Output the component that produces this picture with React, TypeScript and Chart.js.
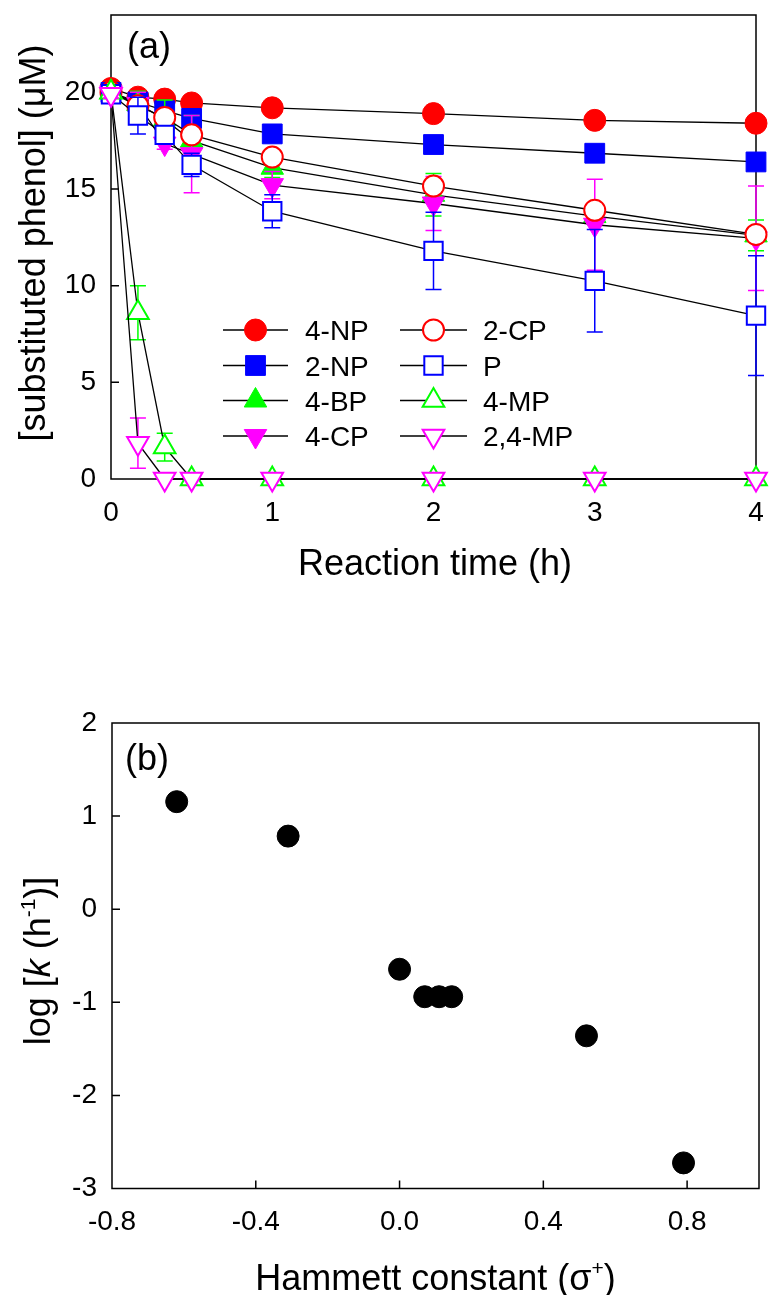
import React, { useEffect, useRef } from 'react';
import { Chart, registerables } from 'chart.js';
import { drawPoint } from 'chart.js/helpers';

Chart.register(...registerables);

const FONT_FAMILY = '"Liberation Sans", Arial, Helvetica, sans-serif';

// ---------- Panel (a): decay of substituted phenols ----------
const reactionTimes = [0, 0.167, 0.333, 0.5, 1, 2, 3, 4];
const timeTicks = [0, 1, 2, 3, 4];
const concTicks = [0, 5, 10, 15, 20];

const phenolLabels = ['4-NP', '2-NP', '4-BP', '4-CP', '2-CP', 'P', '4-MP', '2,4-MP'];

const conc4NP = [20.2, 19.75, 19.65, 19.45, 19.2, 18.9, 18.55, 18.4];
const sd4NP = [0.2, 0.2, 0.2, 0.2, 0.2, 0.2, 0.2, 0.2];
const conc2NP = [20.0, 19.5, 19.05, 18.65, 17.85, 17.3, 16.85, 16.4];
const sd2NP = [0.2, 0.3, 0.3, 0.3, 0.3, 0.3, 0.3, 0.3];
const conc4BP = [20.0, 19.4, 18.6, 17.5, 16.1, 14.7, 13.6, 12.6];
const sd4BP = [0.2, 0.65, 1.0, 1.3, 0.5, 1.1, 0.4, 0.8];
const conc4CP = [20.0, 19.4, 17.35, 16.8, 15.2, 14.25, 13.15, 12.45];
const sd4CP = [0.2, 0.6, 0.3, 2.0, 0.7, 1.4, 2.35, 2.7];
const conc2CP = [20.0, 19.3, 18.7, 17.8, 16.65, 15.15, 13.9, 12.65];
const sd2CP = [0.2, 0.3, 0.3, 0.3, 0.3, 0.3, 0.3, 0.3];
const concP = [19.9, 18.8, 17.8, 16.25, 13.85, 11.8, 10.25, 8.45];
const sdP = [0.3, 0.95, 0.4, 0.6, 0.85, 2.0, 2.65, 3.1];
const conc4MP = [20.0, 8.6, 1.65, 0, 0, 0, 0, 0];
const sd4MP = [0.2, 1.4, 0.72, 0, 0, 0, 0, 0];
const conc24MP = [19.9, 1.85, 0, 0, 0, 0, 0, 0];
const sd24MP = [0.2, 1.3, 0, 0, 0, 0, 0, 0];

const seriesConc = [conc4NP, conc2NP, conc4BP, conc4CP, conc2CP, concP, conc4MP, conc24MP];
const seriesSd = [sd4NP, sd2NP, sd4BP, sd4CP, sd2CP, sdP, sd4MP, sd24MP];

// ---------- Panel (b): Hammett plot ----------
const hammettSigma = [-0.62, -0.31, 0.0, 0.07, 0.11, 0.145, 0.52, 0.79];
const logRateConst = [1.155, 0.785, -0.645, -0.94, -0.94, -0.94, -1.36, -2.725];
const sigmaTicks = [-0.8, -0.4, 0.0, 0.4, 0.8];
const sigmaTickLabels = ['-0.8', '-0.4', '0.0', '0.4', '0.8'];
const logKTicks = [-3, -2, -1, 0, 1, 2];
const logKTickLabels = ['-3', '-2', '-1', '0', '1', '2'];

// marker appearance for each phenol series
const markerStyles = [
  { edge: '#FF0000', face: '#FF0000', shape: 'circle', r: 11, rot: 0, bw: 1 },
  { edge: '#0000FF', face: '#0000FF', shape: 'rect', r: 14, rot: 0, bw: 1 },
  { edge: '#00FF00', face: '#00FF00', shape: 'triangle', r: 13, rot: 0, bw: 1 },
  { edge: '#FF00FF', face: '#FF00FF', shape: 'triangle', r: 13, rot: 180, bw: 1 },
  { edge: '#FF0000', face: '#FFFFFF', shape: 'circle', r: 10.5, rot: 0, bw: 2 },
  { edge: '#0000FF', face: '#FFFFFF', shape: 'rect', r: 13, rot: 0, bw: 2 },
  { edge: '#00FF00', face: '#FFFFFF', shape: 'triangle', r: 12.5, rot: 0, bw: 2 },
  { edge: '#FF00FF', face: '#FFFFFF', shape: 'triangle', r: 12.5, rot: 180, bw: 2 },
];

const CANVAS_W = 771;
const A_H = 620;
const B_TOP = 620;
const B_H = 675;

type Seg = { text: string; size: number; italic?: boolean; rise?: number };

function fontOf(s: Seg) {
  return `${s.italic ? 'italic ' : ''}${s.size}px ${FONT_FAMILY}`;
}

// Draws mixed-style text centred on (cx) with baseline at (by); rotated for vertical titles.
function drawRich(ctx: CanvasRenderingContext2D, segs: Seg[], x: number, y: number, vertical: boolean) {
  ctx.save();
  ctx.fillStyle = '#000';
  ctx.textAlign = 'left';
  ctx.textBaseline = 'alphabetic';
  let total = 0;
  const widths = segs.map((s) => {
    ctx.font = fontOf(s);
    const w = ctx.measureText(s.text).width;
    total += w;
    return w;
  });
  if (vertical) {
    ctx.translate(x, y);
    ctx.rotate(-Math.PI / 2);
  } else {
    ctx.translate(x, y);
  }
  let cur = -total / 2;
  segs.forEach((s, i) => {
    ctx.font = fontOf(s);
    ctx.fillText(s.text, cur, -(s.rise || 0));
    cur += widths[i];
  });
  ctx.restore();
}

const TICK_LEN = 8;

const frameAndTicks = {
  id: 'frameAndTicks',
  beforeDatasetsDraw(chart: any) {
    const { ctx, chartArea: a, scales } = chart;
    ctx.save();
    ctx.strokeStyle = '#000';
    ctx.lineWidth = 1.5;
    ctx.strokeRect(a.left, a.top, a.right - a.left, a.bottom - a.top);
    ctx.beginPath();
    for (const t of scales.x.ticks) {
      const px = scales.x.getPixelForValue(t.value);
      if (px > a.left + 1 && px < a.right - 1) {
        ctx.moveTo(px, a.bottom);
        ctx.lineTo(px, a.bottom - TICK_LEN);
      }
    }
    for (const t of scales.y.ticks) {
      const py = scales.y.getPixelForValue(t.value);
      if (py > a.top + 1 && py < a.bottom - 1) {
        ctx.moveTo(a.left, py);
        ctx.lineTo(a.left + TICK_LEN, py);
      }
    }
    ctx.stroke();
    ctx.restore();
  },
};

const errorBars = {
  id: 'errorBars',
  beforeDatasetDraw(chart: any, args: any) {
    const ds = chart.data.datasets[args.index];
    const errs: number[] | undefined = ds.errors;
    if (!errs) return;
    const yScale = chart.scales.y;
    const ctx = chart.ctx;
    const cap = 8;
    ctx.save();
    ctx.strokeStyle = ds.pointBorderColor;
    ctx.lineWidth = 1.5;
    ctx.beginPath();
    args.meta.data.forEach((pt: any, i: number) => {
      const e = errs[i];
      if (!e) return;
      const v = ds.data[i].y;
      const top = yScale.getPixelForValue(v + e);
      const bot = yScale.getPixelForValue(v - e);
      const x = pt.x;
      ctx.moveTo(x, top);
      ctx.lineTo(x, bot);
      ctx.moveTo(x - cap, top);
      ctx.lineTo(x + cap, top);
      ctx.moveTo(x - cap, bot);
      ctx.lineTo(x + cap, bot);
    });
    ctx.stroke();
    ctx.restore();
  },
};

// legend placement inside panel (a)
const legendLineStart = [223, 400];
const legendLineEnd = [288, 467];
const legendMarkerX = [255.5, 433.5];
const legendTextX = [305, 483];
const legendRowY = [330, 365.5, 400.5, 436];

const phenolLegend = {
  id: 'phenolLegend',
  afterDraw(chart: any) {
    const ctx = chart.ctx;
    chart.data.datasets.forEach((ds: any, i: number) => {
      const col = Math.floor(i / 4);
      const y = legendRowY[i % 4];
      ctx.save();
      ctx.strokeStyle = '#000';
      ctx.lineWidth = 1.3;
      ctx.beginPath();
      ctx.moveTo(legendLineStart[col], y);
      ctx.lineTo(legendLineEnd[col], y);
      ctx.stroke();
      ctx.fillStyle = ds.pointBackgroundColor;
      ctx.strokeStyle = ds.pointBorderColor;
      ctx.lineWidth = ds.pointBorderWidth;
      drawPoint(
        ctx,
        {
          pointStyle: ds.pointStyle,
          radius: ds.pointRadius,
          rotation: ds.pointRotation,
          borderWidth: ds.pointBorderWidth,
        } as any,
        legendMarkerX[col],
        y,
      );
      ctx.fillStyle = '#000';
      ctx.font = `28px ${FONT_FAMILY}`;
      ctx.textAlign = 'left';
      ctx.textBaseline = 'alphabetic';
      ctx.fillText(ds.label, legendTextX[col], y + 10);
      ctx.restore();
    });
  },
};

const titlesA = {
  id: 'titlesA',
  afterDraw(chart: any) {
    const ctx = chart.ctx;
    drawRich(ctx, [{ text: '(a)', size: 36 }], 149, 57.5, false);
    drawRich(ctx, [{ text: 'Reaction time (h)', size: 36 }], 435, 575, false);
    drawRich(ctx, [{ text: '[substituted phenol] (\u03BCM)', size: 36 }], 45, 243, true);
  },
};

const titlesB = {
  id: 'titlesB',
  afterDraw(chart: any) {
    const ctx = chart.ctx;
    drawRich(ctx, [{ text: '(b)', size: 36 }], 147, 769.5 - B_TOP, false);
    drawRich(
      ctx,
      [
        { text: 'Hammett constant (', size: 36 },
        { text: '\u03C3', size: 36 },
        { text: '+', size: 21, rise: 15 },
        { text: ')', size: 36 },
      ],
      435.5,
      1290 - B_TOP,
      false,
    );
    drawRich(
      ctx,
      [
        { text: 'log [', size: 36 },
        { text: 'k', size: 36, italic: true },
        { text: ' (h', size: 36 },
        { text: '-1', size: 21, rise: 15 },
        { text: ')]', size: 36 },
      ],
      50,
      961 - B_TOP,
      true,
    );
  },
};

function tickFont() {
  return { family: FONT_FAMILY, size: 28 };
}

function fixedAxis(kind: 'x' | 'y', size: number) {
  return (s: any) => {
    if (kind === 'x') s.height = size;
    else s.width = size;
    s.paddingTop = 0;
    s.paddingBottom = 0;
    s.paddingLeft = 0;
    s.paddingRight = 0;
  };
}

function makeConfigA(): any {
  const datasets = phenolLabels.map((label, i) => {
    const m = markerStyles[i];
    return {
      label,
      data: reactionTimes.map((t, j) => ({ x: t, y: seriesConc[i][j] })),
      errors: seriesSd[i],
      showLine: true,
      borderColor: '#000',
      borderWidth: 1.3,
      fill: false,
      tension: 0,
      pointStyle: m.shape,
      pointRadius: m.r,
      pointRotation: m.rot,
      pointBackgroundColor: m.face,
      pointBorderColor: m.edge,
      pointBorderWidth: m.bw,
      clip: false,
      order: phenolLabels.length - i,
    };
  });
  return {
    type: 'scatter',
    data: { datasets },
    options: {
      animation: false,
      responsive: false,
      devicePixelRatio: 1,
      events: [],
      layout: { padding: { top: 13, right: 12, left: 0, bottom: 0 } },
      plugins: { legend: { display: false }, tooltip: { enabled: false } },
      scales: {
        x: {
          type: 'linear',
          min: 0,
          max: 4,
          afterBuildTicks: (s: any) => {
            s.ticks = timeTicks.map((v) => ({ value: v }));
          },
          afterFit: fixedAxis('x', A_H - 479),
          grid: { display: false, drawTicks: false },
          border: { display: false },
          ticks: {
            font: tickFont(),
            color: '#000',
            padding: 17,
            maxRotation: 0,
            autoSkip: false,
            callback: (v: any) => String(v),
          },
        },
        y: {
          type: 'linear',
          min: 0,
          max: 24,
          afterBuildTicks: (s: any) => {
            s.ticks = concTicks.map((v) => ({ value: v }));
          },
          afterFit: fixedAxis('y', 111),
          grid: { display: false, drawTicks: false },
          border: { display: false },
          ticks: {
            font: tickFont(),
            color: '#000',
            padding: 15,
            autoSkip: false,
            callback: (v: any) => String(v),
          },
        },
      },
    },
    plugins: [frameAndTicks, errorBars, phenolLegend, titlesA],
  };
}

function makeConfigB(): any {
  return {
    type: 'scatter',
    data: {
      datasets: [
        {
          label: 'log k',
          data: hammettSigma.map((s, i) => ({ x: s, y: logRateConst[i] })),
          pointStyle: 'circle',
          pointRadius: 11,
          pointBackgroundColor: '#000',
          pointBorderColor: '#000',
          pointBorderWidth: 1,
          showLine: false,
          clip: false,
        },
      ],
    },
    options: {
      animation: false,
      responsive: false,
      devicePixelRatio: 1,
      events: [],
      layout: { padding: { top: 723 - B_TOP, right: 12, left: 0, bottom: 0 } },
      plugins: { legend: { display: false }, tooltip: { enabled: false } },
      scales: {
        x: {
          type: 'linear',
          min: -0.8,
          max: 1.0,
          afterBuildTicks: (s: any) => {
            s.ticks = sigmaTicks.map((v) => ({ value: v }));
          },
          afterFit: fixedAxis('x', B_H - (1188.5 - B_TOP)),
          grid: { display: false, drawTicks: false },
          border: { display: false },
          ticks: {
            font: tickFont(),
            color: '#000',
            padding: 17,
            maxRotation: 0,
            autoSkip: false,
            callback: (_v: any, i: number) => sigmaTickLabels[i],
          },
        },
        y: {
          type: 'linear',
          min: -3,
          max: 2,
          afterBuildTicks: (s: any) => {
            s.ticks = logKTicks.map((v) => ({ value: v }));
          },
          afterFit: fixedAxis('y', 112),
          grid: { display: false, drawTicks: false },
          border: { display: false },
          ticks: {
            font: tickFont(),
            color: '#000',
            padding: 15,
            autoSkip: false,
            callback: (_v: any, i: number) => logKTickLabels[i],
          },
        },
      },
    },
    plugins: [frameAndTicks, titlesB],
  };
}

export default function App() {
  const refA = useRef<HTMLCanvasElement>(null);
  const refB = useRef<HTMLCanvasElement>(null);

  useEffect(() => {
    const chartA = new Chart(refA.current as HTMLCanvasElement, makeConfigA());
    const chartB = new Chart(refB.current as HTMLCanvasElement, makeConfigB());
    return () => {
      chartA.destroy();
      chartB.destroy();
    };
  }, []);

  return (
    <div
      style={{
        position: 'absolute',
        left: 0,
        top: 0,
        width: CANVAS_W,
        height: A_H + B_H,
        background: '#fff',
        overflow: 'hidden',
      }}
    >
      <canvas
        ref={refA}
        width={CANVAS_W}
        height={A_H}
        style={{ position: 'absolute', left: 0, top: 0, width: CANVAS_W, height: A_H }}
      />
      <canvas
        ref={refB}
        width={CANVAS_W}
        height={B_H}
        style={{ position: 'absolute', left: 0, top: B_TOP, width: CANVAS_W, height: B_H }}
      />
    </div>
  );
}
